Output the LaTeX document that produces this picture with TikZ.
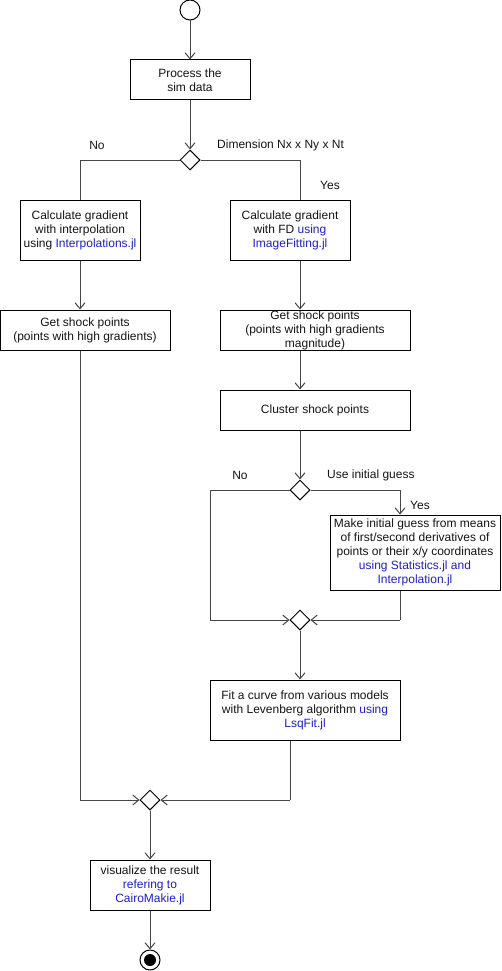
\documentclass[tikz,border=0pt]{standalone}
\usepackage{fontspec}
\setmainfont{Liberation Sans}
\usetikzlibrary{shapes.geometric,arrows.meta}
\definecolor{lnk}{RGB}{30,30,200}
\definecolor{txt}{RGB}{20,20,20}
\definecolor{conn}{RGB}{70,70,70}
\newcommand{\lk}[1]{\textcolor{lnk}{#1}}
\tikzset{
  box/.style={draw=black, line width=1pt, rectangle, inner sep=0pt, align=center,
    font=\fontsize{12}{14}\selectfont, text=txt},
  dia/.style={draw=black, line width=1pt, diamond, inner sep=0pt, minimum width=20pt, minimum height=20pt},
  lbl/.style={font=\fontsize{12}{14}\selectfont, text=txt, inner sep=0pt},
  conline/.style={draw=conn, line width=1pt},
  arr/.style={conline, -{Straight Barb[length=6pt,width=10pt,line width=1pt]}},
}
\begin{document}
\begin{tikzpicture}[x=1pt,y=-1pt]
\useasboundingbox (0,0) rectangle (501,971);
% nodes
\node[draw=black, line width=1pt, circle, minimum size=20pt, inner sep=0pt] (start) at (190,10) {};
\node[box, minimum width=120pt, minimum height=40pt] (proc) at (190,80) {Process the\\sim data};
\node[dia] (d1) at (190,160) {};
\node[box, minimum width=120pt, minimum height=60pt] (lb1) at (80,230) {Calculate gradient\\with interpolation\\using \lk{Interpolations.jl}};
\node[box, minimum width=120pt, minimum height=60pt] (rb1) at (290,230) {Calculate gradient\\with FD \lk{using}\\\lk{ImageFitting.jl}};
\node[box, minimum width=170pt, minimum height=40pt] (lb2) at (85,330) {Get shock points\\(points with high gradients)};
\node[box, minimum width=190pt, minimum height=40pt] (rb2) at (315,330) {Get shock points\\(points with high gradients\\magnitude)};
\node[box, minimum width=190pt, minimum height=40pt] (clus) at (315,410) {Cluster shock points};
\node[dia] (d2) at (300,490) {};
\node[box, minimum width=170pt, minimum height=75pt] (ig) at (415,552.5) {Make initial guess from means\\of first/second derivatives of\\points or their x/y coordinates\\\lk{using Statistics.jl and}\\\lk{Interpolation.jl}};
\node[dia] (d3) at (300,620) {};
\node[box, minimum width=190pt, minimum height=60pt] (fit) at (305,710) {Fit a curve from various models\\with Levenberg algorithm \lk{using}\\\lk{LsqFit.jl}};
\node[dia] (d4) at (150,800) {};
\node[box, minimum width=120pt, minimum height=50pt] (vis) at (150,885) {visualize the result\\\lk{refering to}\\\lk{CairoMakie.jl}};
\node[draw=black, line width=1pt, circle, minimum size=20pt, inner sep=0pt] (end) at (150,960) {};
\fill[black] (end.center) circle (6pt);
% labels
\node[lbl] (lno1) at (97,145) {No};
\node[lbl, anchor=west] (ldim) at (217,145) {Dimension Nx x Ny x Nt};
\node[lbl] (lyes1) at (330,185) {Yes};
\node[lbl] (lno2) at (240,475) {No};
\node[lbl, anchor=west] (luse) at (327,475) {Use initial guess};
\node[lbl] (lyes2) at (420,505) {Yes};
% coordinates
\coordinate (c1) at (80,160);
\coordinate (c2) at (300,160);
\coordinate (c3) at (210,490);
\coordinate (c4) at (210,620);
\coordinate (c5) at (400,490);
\coordinate (c6) at (400,620);
\coordinate (c7) at (290,800);
\coordinate (c8) at (80,800);
% connectors
\draw[arr] (start.south) -- (proc.north);
\draw[arr] (proc.south) -- (d1.north);
\draw[conline] (d1.west) -- (c1) -- (lb1.north);
\draw[conline] (d1.east) -- (c2) -- (c2 |- rb1.north);
\draw[arr] (lb1.south) -- (lb2.north -| lb1.south);
\draw[arr] (c2 |- rb1.south) -- (c2 |- rb2.north);
\draw[arr] (c2 |- rb2.south) -- (c2 |- clus.north);
\draw[arr] (clus.south -| d2.north) -- (d2.north);
\draw[conline] (d2.west) -- (c3) -- (c4);
\draw[arr] (c4) -- (d3.west);
\draw[arr] (d2.east) -- (c5) -- (c5 |- ig.north);
\draw[conline] (c5 |- ig.south) -- (c6);
\draw[arr] (c6) -- (d3.east);
\draw[arr] (d3.south) -- (d3.south |- fit.north);
\draw[conline] (fit.south -| c7) -- (c7);
\draw[arr] (c7) -- (d4.east);
\draw[conline] (lb2.south -| c8) -- (c8);
\draw[arr] (c8) -- (d4.west);
\draw[arr] (d4.south) -- (vis.north);
\draw[arr] (vis.south) -- (end.north);
\end{tikzpicture}
\end{document}
